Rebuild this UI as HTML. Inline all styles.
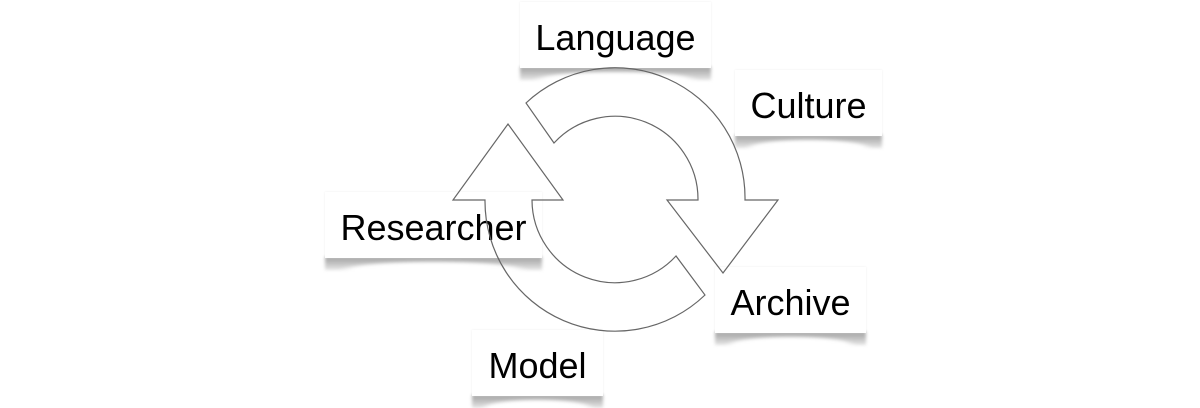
<!DOCTYPE html>
<html><head><style>
body{margin:0;width:1200px;height:406px;background:#fff;position:relative;overflow:hidden;font-family:"Liberation Sans",sans-serif}
.b{position:absolute;background:#fff;display:flex;align-items:center;justify-content:center;font-size:36px;color:#000;box-sizing:border-box;padding-top:6px;box-shadow:0 0 2px rgba(0,0,0,.08);}
.b::after{content:"";position:absolute;left:0;right:0;bottom:-12px;height:13px;z-index:-1;filter:blur(1.5px);
background:radial-gradient(ellipse 62% 95% at 50% 100%,#fff 60%,rgba(255,255,255,0) 72%),linear-gradient(to bottom,#a0a0a0,#e6e6e6);}
svg{position:absolute;left:0;top:0}
</style></head><body>
<div class="b" style="left:520px;top:2px;width:191px;height:66px">Language</div>
<div class="b" style="left:735px;top:70px;width:147px;height:66px">Culture</div>
<div class="b" style="left:325px;top:192px;width:217px;height:66px">Researcher</div>
<div class="b" style="left:715px;top:267px;width:151px;height:66px">Archive</div>
<div class="b" style="left:472px;top:330px;width:131px;height:66px">Model</div>
<svg width="1200" height="406">
<g fill="none" stroke="#666" stroke-width="1.2">
<path d="M526,103 A130,130 0 0 1 745,200 L778,200 L723,273 L667,200 L698,200 A83,83 0 0 0 554,143 Z"/>
<path d="M705,295 A130,130 0 0 1 485,200 L453,200 L508,124 L563,200 L532,200 A83,83 0 0 0 676,256 Z"/>
</g>
</svg>
</body></html>
